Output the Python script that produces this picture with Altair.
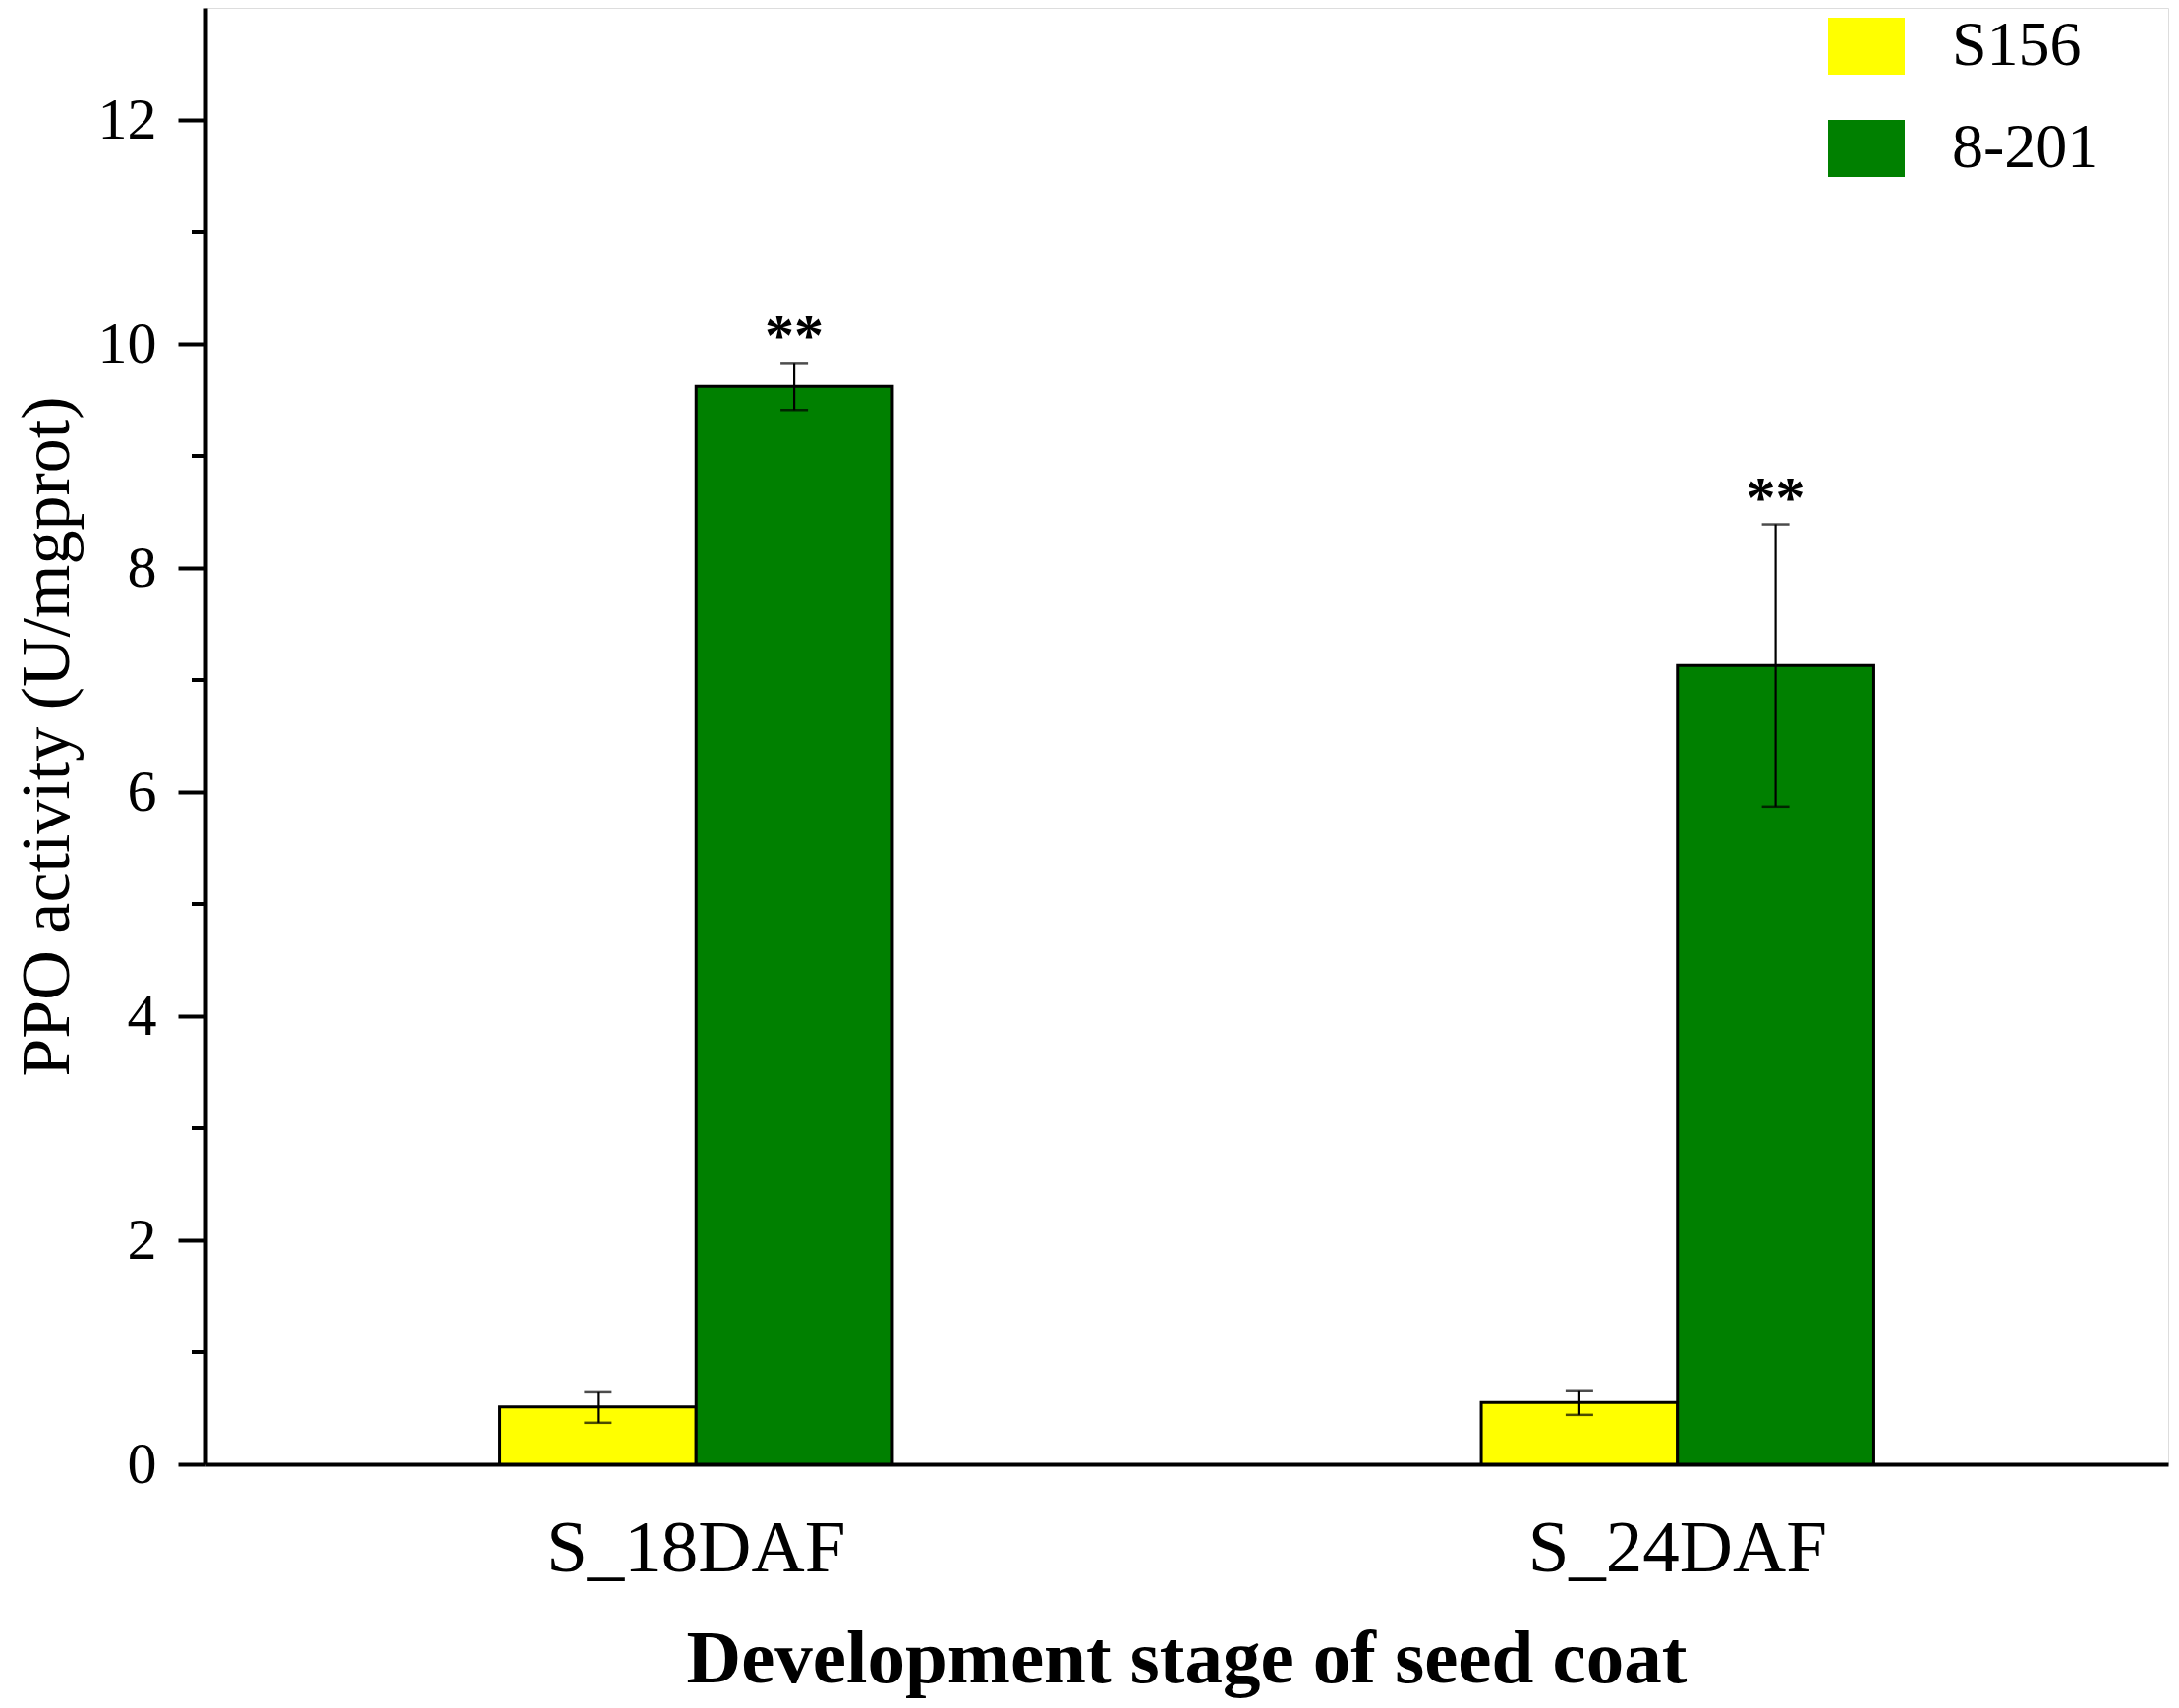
import altair as alt
import pandas as pd

stages = ["S_18DAF", "S_18DAF", "S_24DAF", "S_24DAF"]
varieties = ["S156", "8-201", "S156", "8-201"]
means = [0.51, 9.62, 0.55, 7.13]
errors = [0.14, 0.21, 0.11, 1.26]
sig = ["", "**", "", "**"]

variety_order = ["S156", "8-201"]
variety_colors = ["#FFFF00", "#008000"]
y_ticks = [0, 2, 4, 6, 8, 10, 12]
minor_ticks = [1, 3, 5, 7, 9, 11]

df = pd.DataFrame({
    "stage": stages,
    "variety": varieties,
    "mean": means,
    "err": errors,
    "sig": sig,
})
df["lo"] = df["mean"] - df["err"]
df["hi"] = df["mean"] + df["err"]

minor_df = pd.DataFrame({"v": minor_ticks})

FONT = "Liberation Serif"

x_enc = alt.X(
    "stage:N",
    title="Development stage of seed coat",
    scale=alt.Scale(paddingInner=0.6, paddingOuter=0.3),
    axis=alt.Axis(
        labelAngle=0,
        ticks=False,
        tickSize=0,
        labelFont=FONT,
        labelFontSize=75,
        labelColor="black",
        labelPadding=49,
        labelLimit=0,
        titleFont=FONT,
        titleFontSize=77,
        titleFontWeight="bold",
        titleColor="black",
        titleX=998,
        titleY=221,
        titleBaseline="alphabetic",
        domainColor="black",
        domainWidth=4,
    ),
)
xoff_enc = alt.XOffset(
    "variety:N",
    sort=variety_order,
    scale=alt.Scale(domain=variety_order, paddingInner=0, paddingOuter=0),
)
y_scale = alt.Scale(domain=[0, 13], nice=False)

bars = alt.Chart(df).mark_bar(stroke="black", strokeWidth=3).encode(
    x=x_enc,
    xOffset=xoff_enc,
    y=alt.Y(
        "mean:Q",
        title="PPO activity (U/mgprot)",
        scale=y_scale,
        axis=alt.Axis(
            values=y_ticks,
            format="d",
            grid=False,
            tickSize=28,
            tickWidth=4,
            tickColor="black",
            domainColor="black",
            domainWidth=4,
            labelFont=FONT,
            labelFontSize=60,
            labelColor="black",
            labelPadding=22,
            titleFont=FONT,
            titleFontSize=70,
            titleFontWeight="normal",
            titleColor="black",
            titleX=-161,
            titleY=741,
            titleBaseline="middle",
        ),
    ),
    color=alt.Color(
        "variety:N",
        sort=variety_order,
        scale=alt.Scale(domain=variety_order, range=variety_colors),
        legend=alt.Legend(
            title=None,
            orient="none",
            legendX=1651,
            legendY=0,
            padding=0,
            symbolType="M-1,-0.744h2v1.487h-2z",
            symbolSize=6084,
            symbolStrokeWidth=0,
            symbolOffset=0,
            labelFont=FONT,
            labelFontSize=64,
            labelColor="black",
            labelOffset=48,
            rowPadding=33,
            labelLimit=400,
        ),
    ),
)

rules = alt.Chart(df).mark_rule(color="black", strokeWidth=2.2).encode(
    x="stage:N",
    xOffset=xoff_enc,
    y=alt.Y("lo:Q", scale=y_scale),
    y2="hi:Q",
)

caps_hi = alt.Chart(df).mark_tick(color="black", thickness=2.5, size=28).encode(
    x="stage:N",
    xOffset=xoff_enc,
    y=alt.Y("hi:Q", scale=y_scale),
)
caps_lo = alt.Chart(df).mark_tick(color="black", thickness=2.5, size=28).encode(
    x="stage:N",
    xOffset=xoff_enc,
    y=alt.Y("lo:Q", scale=y_scale),
)

stars = alt.Chart(df).mark_text(
    font=FONT, fontSize=60, fontWeight="bold", color="black",
    baseline="alphabetic", align="center", dy=-8,
).encode(
    x="stage:N",
    xOffset=xoff_enc,
    y=alt.Y("hi:Q", scale=y_scale),
    text="sig:N",
)

minor = alt.Chart(minor_df).mark_rule(color="black", strokeWidth=4).encode(
    y=alt.Y("v:Q", scale=y_scale),
    x=alt.value(-14),
    x2=alt.value(0),
)

chart = alt.layer(bars, rules, caps_hi, caps_lo, stars, minor).properties(
    width=1997,
    height=1482,
    autosize=alt.AutoSizeParams(type="none"),
    padding={"left": 201, "top": 0, "right": 3, "bottom": 240},
).configure_view(stroke=None).configure(background="white")

chart.save("out.html", embed_options={"renderer": "svg", "actions": False})
